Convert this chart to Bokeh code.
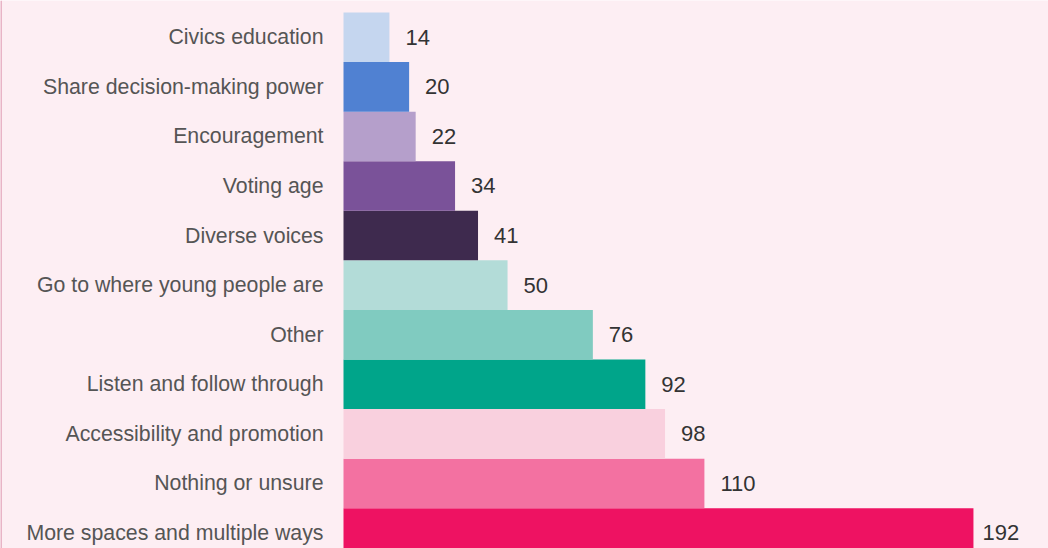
from bokeh.plotting import figure
from bokeh.models import Range1d, ColumnDataSource, Span
from bokeh.core.properties import value
from bokeh.embed import file_html
from bokeh.resources import INLINE

categories = [
    "More spaces and multiple ways",
    "Nothing or unsure",
    "Accessibility and promotion",
    "Listen and follow through",
    "Other",
    "Go to where young people are",
    "Diverse voices",
    "Voting age",
    "Encouragement",
    "Share decision-making power",
    "Civics education",
]
counts = [192, 110, 98, 92, 76, 50, 41, 34, 22, 20, 14]
colors = [
    "#ee1262", "#f371a1", "#f9d0de", "#00a58a", "#80cbc0", "#b3dcd8",
    "#3e2a4e", "#7a5299", "#b59fcb", "#5081d2", "#c5d6ef",
]

W, H = 1048, 548
BG = "#fdeef3"
px_per_unit = 3.281
left_px = 343

# label gap: tighter for the longest bar (near the right edge)
gaps = [9 if v == max(counts) else 16 for v in counts]

src = ColumnDataSource(dict(
    y=list(range(len(categories))),
    cat=categories,
    val=counts,
    lab=[str(v) for v in counts],
    col=colors,
    gap=gaps,
))

p = figure(
    width=W, height=H, output_backend="svg", toolbar_location=None,
    x_range=Range1d(-left_px / px_per_unit, (W - left_px) / px_per_unit),
    y_range=Range1d(-0.313, 10.742),
    min_border=0, background_fill_color=BG, border_fill_color=BG,
    outline_line_color=None,
)
p.axis.visible = False
p.grid.visible = False

p.hbar(y="y", left=0, right="val", height=1.0, fill_color="col",
       line_color=None, source=src)

p.text(x="val", y="y", text="lab", x_offset="gap", y_offset=0, source=src,
       text_font=value("Liberation Sans"), text_font_size="22px",
       text_color="#333333", text_align="left", text_baseline="middle")

p.text(x=0, y="y", text="cat", x_offset=-20, y_offset=0, source=src,
       text_font=value("Liberation Sans"), text_font_size="21.3px",
       text_color="#555555", text_align="right", text_baseline="middle")

p.add_layout(Span(location=p.x_range.start, dimension="height",
                  line_color="#e8b4c6", line_width=3))

open("out.html", "w").write(file_html(p, INLINE))
